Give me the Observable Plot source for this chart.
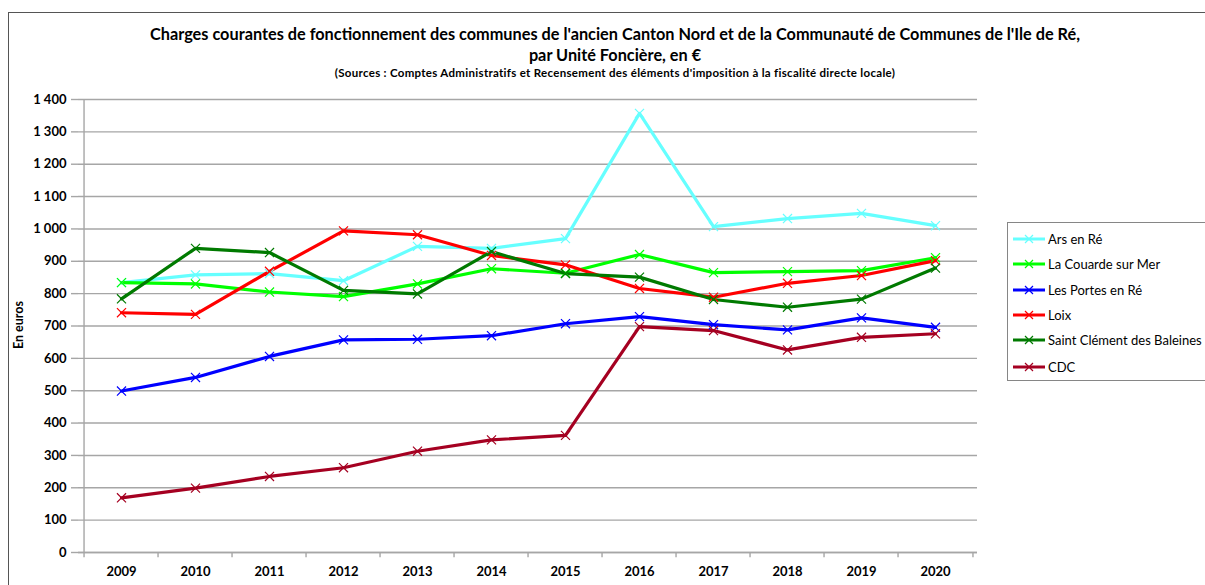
<!DOCTYPE html>
<html><head><meta charset="utf-8">
<script src="https://cdn.jsdelivr.net/npm/d3@7"></script>
<script src="https://cdn.jsdelivr.net/npm/@observablehq/plot@0.6"></script>
<style>
body{margin:0;background:#fff;font-family:Lato,"Open Sans",sans-serif;}
#wrap{position:relative;width:1205px;height:585px;overflow:hidden;background:#fff;}
#frame{position:absolute;left:8px;top:12px;width:1300px;height:700px;border:1px solid #555;box-sizing:border-box;}
.t{position:absolute;left:0;width:1230px;text-align:center;font-weight:bold;color:#000;white-space:nowrap;}
#t1{top:24px;font-size:16.3px;}
#t2{top:45px;font-size:16.3px;}
#t3{top:66px;font-size:11.5px;letter-spacing:0.3px;}
#ylab{position:absolute;left:18px;top:325px;transform:translate(-50%,-50%) rotate(-90deg);font-weight:bold;font-size:12.5px;white-space:nowrap;}
#legend{position:absolute;left:1007px;top:222px;width:230px;height:159px;border:1px solid #868686;box-sizing:border-box;}
.li{position:absolute;left:4px;height:20px;display:flex;align-items:center;font-size:13px;white-space:nowrap;}
#chart{position:absolute;left:0;top:0;}
</style></head>
<body><div id="wrap">
<div id="frame"></div>
<div class="t" id="t1">Charges courantes de fonctionnement des communes de l'ancien Canton Nord et de la Communauté de Communes de l'Ile de Ré,</div>
<div class="t" id="t2">par Unité Foncière, en €</div>
<div class="t" id="t3">(Sources : Comptes Administratifs et Recensement des éléments d'imposition à la fiscalité directe locale)</div>
<div id="ylab">En euros</div>
<div id="chart"></div>
<div id="legend"></div>
</div>
<script>
const years = ["2009","2010","2011","2012","2013","2014","2015","2016","2017","2018","2019","2020"];
const seriesNames = ["Ars en Ré","La Couarde sur Mer","Les Portes en Ré","Loix","Saint Clément des Baleines","CDC"];
const seriesColors = ["#66FFFF","#00FF00","#0000FF","#FF0000","#007A00","#A50021"];
const arsEnRe = [834, 858, 862, 840, 946, 940, 970, 1357, 1007, 1032, 1048, 1010];
const laCouarde = [834, 830, 805, 791, 830, 877, 863, 921, 865, 868, 871, 911];
const lesPortes = [499, 541, 606, 657, 659, 670, 707, 729, 704, 688, 725, 696];
const loix = [741, 736, 869, 994, 982, 918, 889, 816, 789, 832, 856, 902];
const saintClement = [784, 940, 927, 810, 799, 930, 862, 851, 782, 758, 783, 879];
const cdc = [169, 199, 235, 262, 313, 348, 362, 698, 686, 626, 665, 676];
const yTicks = [0,100,200,300,400,500,600,700,800,900,1000,1100,1200,1300,1400];
const yTickLabels = ["0","100","200","300","400","500","600","700","800","900","1 000","1 100","1 200","1 300","1 400"];

const seriesValues = [arsEnRe, laCouarde, lesPortes, loix, saintClement, cdc];
const rows = [];
seriesNames.forEach((s, i) => years.forEach((y, j) => rows.push({series: s, year: y, value: seriesValues[i][j]})));

const half = (977 - 78) / years.length / 2;
const grid = "#a6a6a6";

const chart = Plot.plot({
  width: 1205, height: 585,
  marginLeft: 78, marginRight: 228, marginTop: 99, marginBottom: 33,
  style: {fontFamily: "Lato, 'Open Sans', sans-serif", background: "transparent", overflow: "visible"},
  x: {type: "band", domain: years, padding: 0, axis: null, label: null},
  y: {domain: [0, 1400], axis: null, label: null},
  color: {domain: seriesNames, range: seriesColors},
  marks: [
    Plot.gridY(yTicks, {stroke: grid, strokeOpacity: 1, strokeWidth: 1.4}),
    Plot.ruleX([years[0]], {dx: -half, y1: 0, y2: 1400, stroke: grid, strokeWidth: 1.4}),
    Plot.ruleY([0], {stroke: grid, strokeWidth: 1.4}),
    Plot.ruleX(years, {dx: -half, y1: 0, y2: -16, stroke: grid, strokeWidth: 1.4}),
    Plot.ruleX([years[years.length - 1]], {dx: half, y1: 0, y2: -16, stroke: grid, strokeWidth: 1.4}),
    Plot.axisY(yTicks, {label: null, tickSize: 7, tickPadding: 5, stroke: grid, strokeWidth: 1.4, tickFormat: (d) => yTickLabels[yTicks.indexOf(d)], fontSize: 13, fontWeight: "bold", fill: "#000"}),
    Plot.axisX({label: null, tickSize: 0, tickPadding: 14, fontSize: 13, fontWeight: "bold", fill: "#000"}),
    Plot.line(rows, {x: "year", y: "value", z: "series", stroke: "series", strokeWidth: 3.2, strokeLinejoin: "round"}),
    Plot.dot(rows, {x: "year", y: "value", stroke: "series", symbol: "times", r: 4.2, strokeWidth: 1.2})
  ]
});
document.getElementById("chart").appendChild(chart);

const legend = document.getElementById("legend");
const lyTops = [6, 31, 57, 82, 107, 134];
seriesNames.forEach((s, i) => {
  const d = document.createElement("div");
  d.className = "li";
  d.style.top = lyTops[i] + "px";
  const c = seriesColors[i];
  d.innerHTML = `<svg width="34" height="12" style="margin-right:2px"><line x1="1" x2="33" y1="6" y2="6" stroke="${c}" stroke-width="3"/><path d="M13,2L21,10M21,2L13,10" stroke="${c}" stroke-width="1.2"/></svg><span>${s}</span>`;
  legend.appendChild(d);
});
</script>
</body></html>
